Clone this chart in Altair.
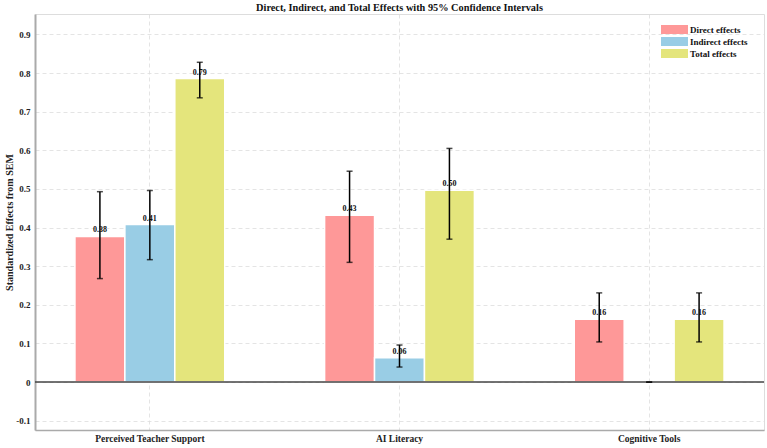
import altair as alt
import pandas as pd

categories = ["Perceived Teacher Support", "AI Literacy", "Cognitive Tools"]
series = ["Direct effects", "Indirect effects", "Total effects"]
colors = ["#FE9898", "#99CDE5", "#E4E57C"]

direct = [0.377, 0.432, 0.163]
direct_lo = [0.268, 0.310, 0.104]
direct_hi = [0.493, 0.546, 0.231]

indirect = [0.408, 0.063, 0.0]
indirect_lo = [0.317, 0.039, 0.0]
indirect_hi = [0.496, 0.096, 0.0]

total = [0.786, 0.497, 0.163]
total_lo = [0.736, 0.370, 0.104]
total_hi = [0.828, 0.605, 0.231]

y_ticks = [-0.1, 0.0, 0.1, 0.2, 0.3, 0.4, 0.5, 0.6, 0.7, 0.8, 0.9]

rows = []
for s, vals, lo, hi in [
    (series[0], direct, direct_lo, direct_hi),
    (series[1], indirect, indirect_lo, indirect_hi),
    (series[2], total, total_lo, total_hi),
]:
    for c, v, l, h in zip(categories, vals, lo, hi):
        rows.append({"category": c, "series": s, "value": v, "lo": l, "hi": h,
                     "label": f"{v:.2f}" if v > 0 else ""})
df = pd.DataFrame(rows)

FONT = "Liberation Serif"

x_enc = alt.X("category:N", sort=categories,
              scale=alt.Scale(paddingInner=0.4, paddingOuter=0.16),
              axis=alt.Axis(title=None, labelAngle=0, ticks=False, grid=True,
                            bandPosition=0.5, labelFont=FONT, labelFontSize=9.5,
                            labelFontWeight="bold", labelColor="#222",
                            labelPadding=3, domainColor="#aaaaaa", domainWidth=1.5,
                            gridDash=[4, 3], gridColor="#dddddd", gridWidth=0.8))
xo = alt.XOffset("series:N", sort=series, scale=alt.Scale(paddingInner=0, paddingOuter=0))
y_scale = alt.Scale(domain=[-0.124, 0.953], nice=False, zero=False)

bars = alt.Chart(df).mark_bar(stroke="white", strokeWidth=1.5).encode(
    x=x_enc,
    xOffset=xo,
    y=alt.Y("value:Q", scale=y_scale,
            axis=alt.Axis(title="Standardized Effects from SEM", values=y_ticks,
                          labelExpr="datum.value == 0 ? '0' : (datum.value < 0 ? '-' + format(-datum.value, '.1f') : format(datum.value, '.1f'))",
                          ticks=False, labelPadding=5, labelFont=FONT, labelFontSize=9,
                          labelFontWeight="bold", labelColor="#222",
                          titleFont=FONT, titleFontSize=10, titleFontWeight="bold",
                          titleColor="#222", titlePadding=1,
                          domainColor="#aaaaaa", domainWidth=2,
                          gridDash=[4, 3], gridColor="#dddddd", gridWidth=0.8)),
    y2=alt.datum(0),
    color=alt.Color("series:N", sort=series,
                    scale=alt.Scale(domain=series, range=colors),
                    legend=alt.Legend(title=None, orient="none", legendX=635, legendY=11,
                                      symbolType="M-3,-1H3V1H-3Z", symbolSize=81,
                                      symbolStrokeWidth=0, symbolOpacity=1,
                                      labelFont=FONT, labelFontSize=9, labelFontWeight="bold",
                                      labelColor="#111", labelOffset=11, rowPadding=2,
                                      padding=0)),
)

zero_rule = alt.Chart(pd.DataFrame({"z": [0.0]})).mark_rule(color="#444444", strokeWidth=1.5).encode(
    y=alt.Y("z:Q", scale=y_scale)
)

labels = alt.Chart(df).mark_text(font=FONT, fontSize=8, fontWeight="bold", baseline="bottom",
                                 dy=-2, fill="#111111").encode(
    x=alt.X("category:N", sort=categories),
    xOffset=xo,
    y=alt.Y("value:Q", scale=y_scale),
    text="label:N",
)

err = alt.Chart(df).mark_rule(color="black", strokeWidth=1.5).encode(
    x=alt.X("category:N", sort=categories),
    xOffset=xo,
    y=alt.Y("lo:Q", scale=y_scale),
    y2="hi:Q",
)
cap_lo = alt.Chart(df).mark_tick(color="black", thickness=1.5, size=6, orient="horizontal").encode(
    x=alt.X("category:N", sort=categories),
    xOffset=xo,
    y=alt.Y("lo:Q", scale=y_scale),
)
cap_hi = alt.Chart(df).mark_tick(color="black", thickness=1.5, size=6, orient="horizontal").encode(
    x=alt.X("category:N", sort=categories),
    xOffset=xo,
    y=alt.Y("hi:Q", scale=y_scale),
)

chart = alt.layer(bars, zero_rule, labels, err, cap_lo, cap_hi).properties(
    width=729, height=416,
    title=alt.TitleParams("Direct, Indirect, and Total Effects with 95% Confidence Intervals",
                          font=FONT, fontSize=10.3, fontWeight="bold", color="#111",
                          anchor="middle", offset=1),
    autosize=alt.AutoSizeParams(type="none"),
    padding={"left": 35, "top": 14, "right": 3, "bottom": 18},
).configure_view(stroke=None).configure(background="white")

chart.save("out.html", embed_options={"renderer": "svg", "actions": False})
